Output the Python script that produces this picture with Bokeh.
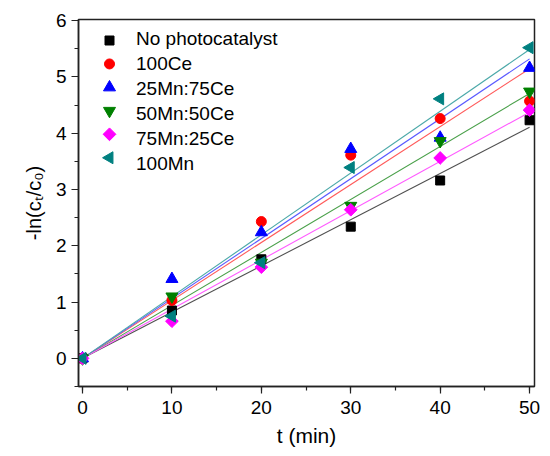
import numpy as np
from bokeh.plotting import figure
from bokeh.models import Range1d, Legend, LegendItem, SingleIntervalTicker, Title
from bokeh.embed import file_html
from bokeh.resources import INLINE

t_min = [0, 10, 20, 30, 40, 50]
series_names = ["No photocatalyst", "100Ce", "25Mn:75Ce", "50Mn:50Ce", "75Mn:25Ce", "100Mn"]
no_photocatalyst = [0.0, 0.85, 1.76, 2.34, 3.16, 4.23]
ce100 = [0.0, 1.03, 2.43, 3.61, 4.26, 4.57]
mn25_ce75 = [0.0, 1.41, 2.24, 3.72, 3.92, 5.16]
mn50_ce50 = [0.0, 1.10, 1.70, 2.71, 3.86, 4.74]
mn75_ce25 = [0.0, 0.66, 1.62, 2.64, 3.56, 4.41]
mn100 = [0.0, 0.75, 1.70, 3.39, 4.61, 5.52]

FONT = "Liberation Sans"
W, H = 550, 456
BL, BR, BT, BB = 78, 16, 19, 70
X0, X1 = -0.45, 50.55
Y0, Y1 = -0.5, 6.02

p = figure(width=W, height=H, output_backend="svg", toolbar_location=None,
           x_range=Range1d(X0, X1), y_range=Range1d(Y0, Y1),
           min_border_left=BL, min_border_right=BR, min_border_top=BT, min_border_bottom=BB)
p.xgrid.visible = False
p.ygrid.visible = False
p.outline_line_color = "#222222"
p.outline_line_width = 1.5
p.background_fill_color = "white"
p.border_fill_color = "white"

p.xaxis.ticker = SingleIntervalTicker(interval=10, num_minor_ticks=2)
p.yaxis.ticker = SingleIntervalTicker(interval=1, num_minor_ticks=2)
for ax in (p.xaxis[0], p.yaxis[0]):
    ax.axis_line_color = "#222222"
    ax.axis_line_width = 1.5
    ax.major_tick_line_color = "#222222"
    ax.minor_tick_line_color = "#222222"
    ax.major_tick_line_width = 1.2
    ax.minor_tick_line_width = 1.2
    ax.major_tick_out = 7
    ax.major_tick_in = 0
    ax.minor_tick_out = 4
    ax.minor_tick_in = 0
    ax.major_label_text_font = FONT
    ax.major_label_text_font_size = "19px"
    ax.major_label_text_color = "black"
    ax.axis_label_text_font = FONT
    ax.axis_label_text_font_size = "21px"
    ax.axis_label_text_font_style = "normal"
    ax.axis_label_text_color = "black"
p.xaxis.major_label_standoff = 7
p.yaxis.major_label_standoff = 5
p.xaxis.axis_label = "t (min)"
p.xaxis.axis_label_standoff = 7

ytitle = Title(text="-ln(c\u209c/c\u2080)", align="center", offset=25,
               text_font=FONT, text_font_size="20px", text_font_style="normal",
               text_color="black", standoff=15)
p.add_layout(ytitle, "left")

data = [no_photocatalyst, ce100, mn25_ce75, mn50_ce50, mn75_ce25, mn100]
colors = ["#000000", "#ff0000", "#0000ff", "#008000", "#ff00ff", "#008080"]
line_colors = ["#505050", "#ff5a5a", "#5a5aff", "#4aa04a", "#ff5aff", "#4aa8a8"]
markers = ["square", "circle", "triangle", "inverted_triangle", "square", "triangle"]
angles = [0, 0, 0, 0, np.pi / 4, np.pi / 2]
sizes = [9, 10, 12, 12, 9, 12]

tx = np.array(t_min, dtype=float)
for ys, lc in zip(data, line_colors):
    yv = np.array(ys)
    slope = float(np.sum(tx * yv) / np.sum(tx * tx))
    p.line([tx[0], tx[-1]], [slope * tx[0], slope * tx[-1]], line_color=lc, line_width=1.1)

items = []
for name, ys, c, m, a, s in zip(series_names, data, colors, markers, angles, sizes):
    r = p.scatter(t_min, ys, marker=m, size=s, angle=a, fill_color=c, line_color=c)
    items.append(LegendItem(label=name, renderers=[r]))

# Bokeh's legend drops marker angles and shrinks markers, so the legend
# keeps only its labels and the symbols are drawn beside them.
legend = Legend(items=items, location="top_left")
legend.margin = 9
legend.padding = 0
legend.border_line_color = None
legend.background_fill_alpha = 0
legend.glyph_width = 0
legend.glyph_height = 20
legend.label_height = 20
legend.spacing = 3
legend.label_standoff = 49
legend.label_text_font = FONT
legend.label_text_font_size = "19px"
legend.label_text_color = "black"
p.add_layout(legend)

fw = W - BL - BR
fh = H - BT - BB
row_h = 23.45
first_row = 21.0
glyph_cx = 31.0
for i, (c, m, a, s) in enumerate(zip(colors, markers, angles, sizes)):
    py = first_row + i * row_h
    lx = X0 + glyph_cx / fw * (X1 - X0)
    ly = Y1 - py / fh * (Y1 - Y0)
    p.scatter([lx], [ly], marker=m, size=s, angle=a, fill_color=c, line_color=c)

open("out.html", "w").write(file_html(p, INLINE))
